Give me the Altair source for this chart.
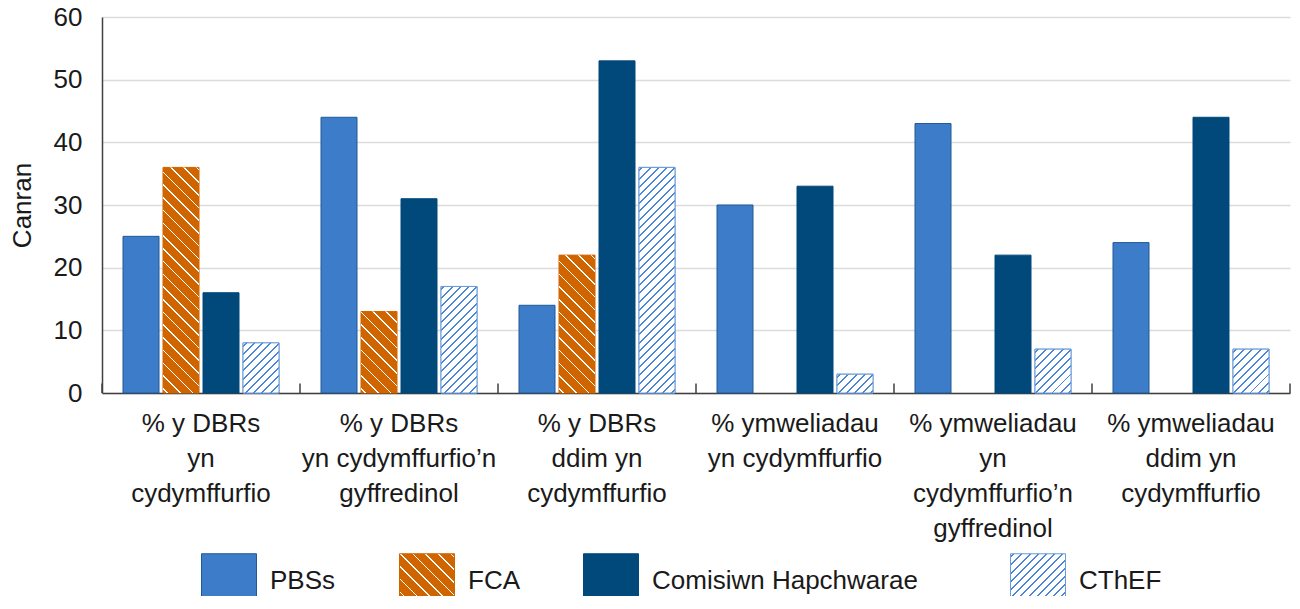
import json
import math
import altair as alt
import pandas as pd

# ---------------- data ----------------
categories = [
    "% y DBRs|yn|cydymffurfio",
    "% y DBRs|yn cydymffurfio’n|gyffredinol",
    "% y DBRs|ddim yn|cydymffurfio",
    "% ymweliadau|yn cydymffurfio",
    "% ymweliadau|yn|cydymffurfio’n|gyffredinol",
    "% ymweliadau|ddim yn|cydymffurfio",
]
series = ["PBSs", "FCA", "Comisiwn Hapchwarae", "CThEF"]
pbss = [25, 44, 14, 30, 43, 24]
fca = [36, 13, 22, None, None, None]
comisiwn = [16, 31, 53, 33, 22, 44]
cthef = [8, 17, 36, 3, 7, 7]

# ---------------- style ----------------
FONT = "Liberation Sans"
FS = 26
TXT = "#1a1a1a"
C_PBS = "#3d7cc9"
C_PBS_STROKE = "#1f5a94"
C_FCA = "#d06500"
C_CH = "#00497a"
C_CTH_LINE = "#4a86d4"
C_CTH_STROKE = "#6a9ad8"
W, H = 1188, 376
YMAX = 60

rows = []
for i, c in enumerate(categories):
    for s, vals in zip(series, [pbss, fca, comisiwn, cthef]):
        if vals[i] is not None:
            rows.append({"cat": c, "series": s, "value": vals[i]})
df = pd.DataFrame(rows)

step = W / len(categories)
x_scale = alt.Scale(domain=categories, paddingInner=0, paddingOuter=0)
off_scale = alt.Scale(domain=series, paddingInner=0.1, paddingOuter=0.525)
y_scale = alt.Scale(domain=[0, YMAX], nice=False)
bar_w = step / (len(series) - 0.1 + 2 * 0.525) * 0.9


def hatch(w, h, period, lw, line_color, bg, forward, phase=0.3):
    """Linear gradient that renders as 45-degree stripes on a w x h box."""
    span = (w + h) / math.sqrt(2)
    s = (1 / h + 1 / w) / (1 / h ** 2 + 1 / w ** 2)
    stops = [{"offset": 0, "color": bg}]
    pos = phase * period
    while pos < span:
        a = round(min(pos / span, 1), 5)
        b = round(min((pos + lw) / span, 1), 5)
        stops += [
            {"offset": a, "color": bg},
            {"offset": a, "color": line_color},
            {"offset": b, "color": line_color},
            {"offset": b, "color": bg},
        ]
        pos += period
    stops.append({"offset": 1, "color": bg})
    if forward:  # "/" stripes
        return {"gradient": "linear", "x1": 0, "y1": 0,
                "x2": round(s / h, 5), "y2": round(s / w, 5), "stops": stops}
    return {"gradient": "linear", "x1": 0, "y1": 1,
            "x2": round(s / h, 5), "y2": round(1 - s / w, 5), "stops": stops}


def fca_grad(w, h):
    return hatch(w, h, 9.0, 1.1, "#ffffff", C_FCA, forward=False)


def cth_grad(w, h):
    return hatch(w, h, 5.8, 1.4, C_CTH_LINE, "#ffffff", forward=True)


sym_sz = 55
color_range = [
    C_PBS,
    alt.ExprRef(expr=json.dumps(fca_grad(sym_sz, sym_sz))),
    C_CH,
    alt.ExprRef(expr=json.dumps(cth_grad(sym_sz, sym_sz))),
]

x_enc = alt.X(
    "cat:N",
    scale=x_scale,
    sort=None,
    axis=alt.Axis(
        title=None,
        labelExpr="split(datum.label, '|')",
        labelFont=FONT,
        labelFontSize=FS,
        labelColor=TXT,
        labelLineHeight=35,
        labelAngle=0,
        labelPadding=17,
        labelLimit=400,
        labelOverlap=False,
        ticks=False,
        domainColor="#404040",
        domainWidth=1.5,
        grid=False,
    ),
)
y_enc = alt.Y(
    "value:Q",
    scale=y_scale,
    axis=alt.Axis(
        title="Canran",
        values=list(range(0, 61, 10)),
        titleFont=FONT,
        titleFontSize=FS,
        titleFontWeight="normal",
        titleColor=TXT,
        titlePadding=18,
        labelFont=FONT,
        labelFontSize=FS,
        labelColor=TXT,
        labelPadding=20,
        ticks=False,
        domainColor="#404040",
        domainWidth=1.5,
        gridColor="#dcdcdc",
        gridWidth=1.5,
    ),
)

legend_kw = dict(
    title=None,
    orient="none",
    legendX=99,
    legendY=536,
    direction="horizontal",
    symbolType="square",
    symbolSize=sym_sz * sym_sz,
    symbolStrokeWidth=1,
    labelFont=FONT,
    labelFontSize=FS,
    labelColor=TXT,
    labelOffset=13,
    labelLimit=500,
    labelExpr=(
        "datum.label == 'Comisiwn Hapchwarae' ? "
        "datum.label + '\u00a0\u00a0\u00a0\u00a0\u200b' : datum.label"
    ),
    columnPadding=61,
    padding=0,
)

base = alt.Chart(df).mark_bar(strokeWidth=1).encode(
    x=x_enc,
    xOffset=alt.XOffset("series:N", scale=off_scale),
    y=y_enc,
    color=alt.Color(
        "series:N",
        scale=alt.Scale(domain=series, range=color_range),
        legend=alt.Legend(**legend_kw),
    ),
    stroke=alt.Stroke(
        "series:N",
        scale=alt.Scale(domain=series, range=[C_PBS_STROKE, C_FCA, C_CH, C_CTH_STROKE]),
        legend=alt.Legend(**legend_kw),
    ),
)

layers = [base]
for _, r in df.iterrows():
    if r["series"] not in ("FCA", "CThEF"):
        continue
    h = r["value"] * H / YMAX
    if r["series"] == "FCA":
        mk = alt.Chart(pd.DataFrame([r])).mark_bar(fill=fca_grad(bar_w, h), strokeWidth=0)
    else:
        mk = alt.Chart(pd.DataFrame([r])).mark_bar(
            fill=cth_grad(bar_w, h), stroke=C_CTH_STROKE, strokeWidth=1
        )
    layers.append(
        mk.encode(
            x=alt.X("cat:N", scale=x_scale, sort=None),
            xOffset=alt.XOffset("series:N", scale=off_scale),
            y=alt.Y("value:Q", scale=y_scale),
        )
    )

# category boundary ticks on the x axis (pointing up)
tick_df = pd.DataFrame({"cat": categories, "lo": [0] * 6, "hi": [1.5] * 6})
ticks_left = alt.Chart(tick_df).mark_rule(color="#404040", strokeWidth=1.5).encode(
    x=alt.X("cat:N", scale=x_scale, sort=None, bandPosition=0),
    y=alt.Y("lo:Q", scale=y_scale),
    y2="hi:Q",
)
ticks_right = alt.Chart(tick_df.tail(1)).mark_rule(color="#404040", strokeWidth=1.5).encode(
    x=alt.X("cat:N", scale=x_scale, sort=None, bandPosition=1),
    y=alt.Y("lo:Q", scale=y_scale),
    y2="hi:Q",
)
layers += [ticks_left, ticks_right]

chart = (
    alt.layer(*layers)
    .properties(
        width=W,
        height=H,
        autosize=alt.AutoSizeParams(type="none"),
        padding={"left": 94, "top": 9, "right": 2, "bottom": 203},
    )
    .configure_view(stroke=None)
)

chart.save("out.html", embed_options={"renderer": "svg", "actions": False})
